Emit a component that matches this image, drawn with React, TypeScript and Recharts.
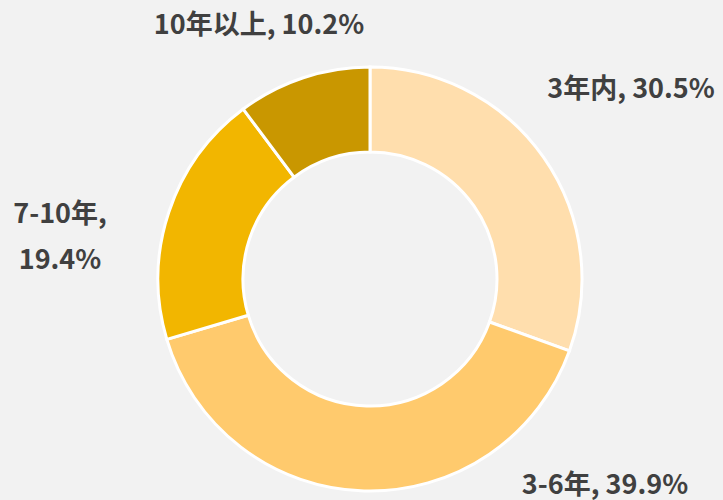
import React from 'react';
import { PieChart, Pie, Cell } from 'recharts';

const categories = ['3年内', '3-6年', '7-10年', '10年以上'];
const shares = [30.5, 39.9, 19.4, 10.2];
const colors = ['#FFDEAD', '#FFCA6D', '#F2B600', '#C99700'];

const data = categories.map((name, i) => ({ name, value: shares[i] }));

// label centres (Excel-style dragged labels), and whether the label wraps
const labelPos: { x: number; y: number; wrap?: boolean }[] = [
  { x: 631, y: 86 },
  { x: 605, y: 482 },
  { x: 60, y: 234, wrap: true },
  { x: 259, y: 22 },
];

const textStyle = {
  fontFamily: '"Microsoft YaHei", "Noto Sans CJK SC", sans-serif',
  fontSize: 27,
  fontWeight: 700,
  fill: '#404040',
};

const renderLabel = (props: any) => {
  const { index } = props;
  const d = data[index];
  const p = labelPos[index];
  if (p.wrap) {
    return (
      <text x={p.x} y={p.y} textAnchor="middle" style={textStyle}>
        <tspan x={p.x} y={p.y - 23} dominantBaseline="central">{`${d.name},`}</tspan>
        <tspan x={p.x} y={p.y + 23} dominantBaseline="central">{`${d.value.toFixed(1)}%`}</tspan>
      </text>
    );
  }
  return (
    <text x={p.x} y={p.y} textAnchor="middle" dominantBaseline="central" style={textStyle}>
      {`${d.name}, ${d.value.toFixed(1)}%`}
    </text>
  );
};

export default function App() {
  return (
    <div style={{ position: 'fixed', left: 0, top: 0, width: 723, height: 500, background: '#F2F2F2' }}>
      <PieChart width={723} height={500} margin={{ top: 0, right: 0, bottom: 0, left: 0 }}>
        <Pie
          data={data}
          dataKey="value"
          cx={370}
          cy={279}
          innerRadius={127}
          outerRadius={212}
          startAngle={90}
          endAngle={-270}
          stroke="#FFFFFF"
          strokeWidth={3}
          label={renderLabel}
          labelLine={false}
          isAnimationActive={false}
        >
          {data.map((entry, i) => (
            <Cell key={entry.name} fill={colors[i]} />
          ))}
        </Pie>
      </PieChart>
    </div>
  );
}
